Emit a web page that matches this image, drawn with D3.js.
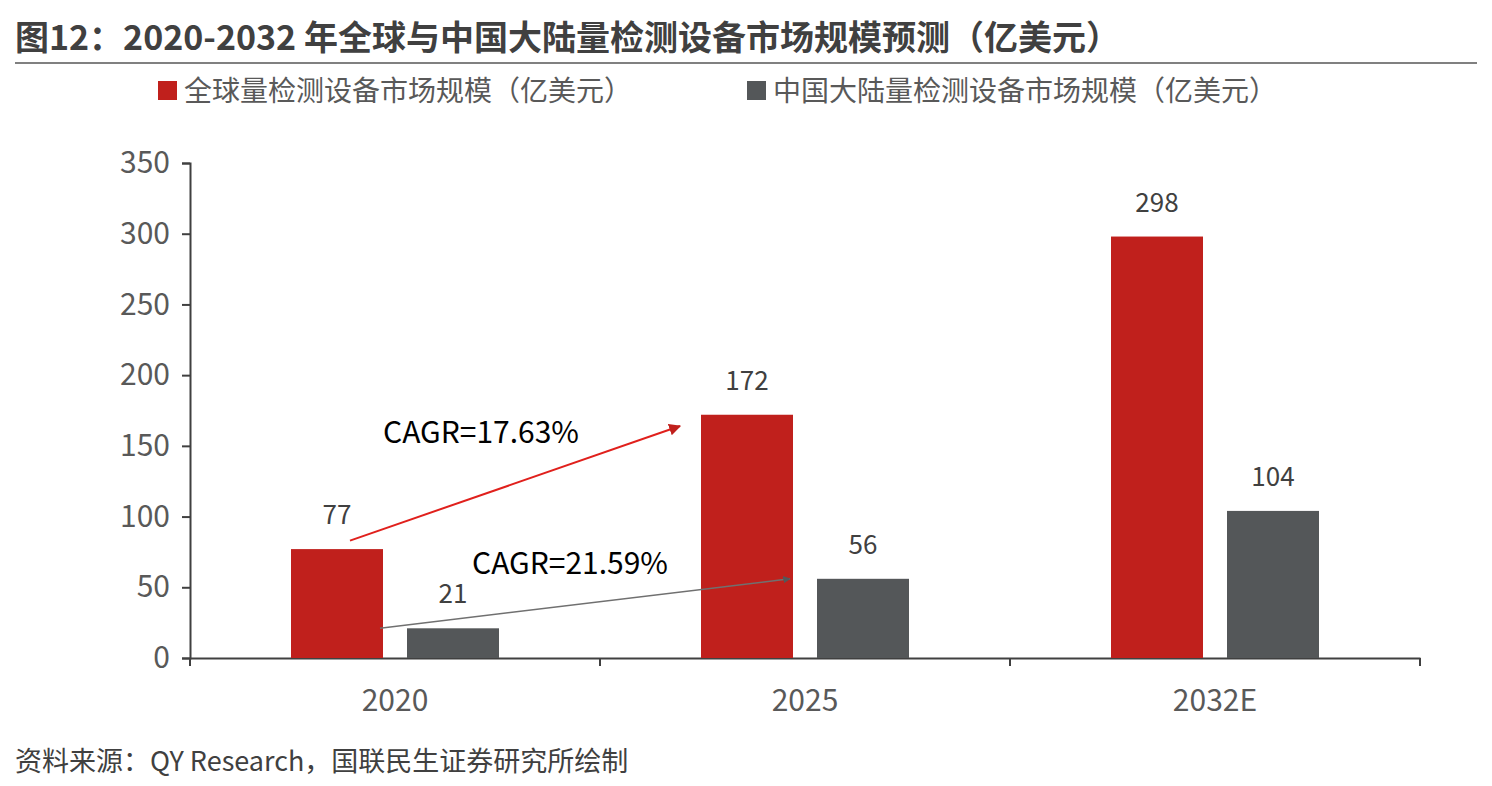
<!DOCTYPE html>
<html><head><meta charset="utf-8">
<script src="https://cdn.jsdelivr.net/npm/d3@7"></script>
<style>body{margin:0;background:#fff;font-family:"Noto Sans CJK SC","Noto Sans",sans-serif;}</style>
</head><body>
<svg id="chart" width="1492" height="786"></svg>
<script>
const categories = ['2020', '2025', '2032E'];
const globalValues = [77, 172, 298];
const chinaValues = [21, 56, 104];
const seriesNames = ['全球量检测设备市场规模（亿美元）', '中国大陆量检测设备市场规模（亿美元）'];
const yTicks = [0, 50, 100, 150, 200, 250, 300, 350];
const cagrLabels = ['CAGR=17.63%', 'CAGR=21.59%'];
const colors = ['#c0201c', '#545759'];

const svg = d3.select('#chart');
const font = '"Noto Sans CJK SC","Noto Sans",sans-serif';

svg.append('text').attr('x', 15).attr('y', 50)
  .attr('font-size', 34).attr('font-weight', 'bold').attr('fill', '#404040')
  .attr('font-family', font)
  .text('图12：2020-2032 年全球与中国大陆量检测设备市场规模预测（亿美元）');
svg.append('line').attr('x1', 15).attr('x2', 1477).attr('y1', 63).attr('y2', 63)
  .attr('stroke', '#808080').attr('stroke-width', 2);

// legend
const legendX = [158, 747];
seriesNames.forEach((n, i) => {
  svg.append('rect').attr('x', legendX[i]).attr('y', 81).attr('width', 19).attr('height', 19).attr('fill', colors[i]);
  svg.append('text').attr('x', legendX[i] + 26).attr('y', 101).attr('font-size', 28)
    .attr('fill', '#595959').attr('font-family', font).text(n);
});

const x = d3.scaleBand().domain(categories).range([190, 1420]);
const y = d3.scaleLinear().domain([0, 350]).range([658, 163]);
const barW = 92, gap = 24;

const yAxis = svg.append('g').attr('transform', 'translate(190,0)')
  .call(d3.axisLeft(y).tickValues(yTicks).tickSize(8).tickPadding(12));
yAxis.select('.domain').attr('stroke', '#404040').attr('stroke-width', 2);
yAxis.selectAll('line').attr('stroke', '#404040').attr('stroke-width', 2);
yAxis.selectAll('text').attr('font-size', 30).attr('fill', '#595959').attr('font-family', font);

const xAxis = svg.append('g').attr('transform', 'translate(0,658)')
  .call(d3.axisBottom(x).tickSize(0).tickPadding(32));
xAxis.select('.domain').attr('stroke', '#404040').attr('stroke-width', 2);
xAxis.selectAll('text').attr('font-size', 30).attr('fill', '#595959').attr('font-family', font);
xAxis.selectAll('.bound').data([190, 600, 1010, 1420]).enter().append('line')
  .attr('x1', d => d).attr('x2', d => d).attr('y1', 0).attr('y2', 8)
  .attr('stroke', '#404040').attr('stroke-width', 2);

[globalValues, chinaValues].forEach((vals, s) => {
  const bx = c => x(c) + x.bandwidth() / 2 + (s === 0 ? -gap / 2 - barW : gap / 2);
  svg.selectAll('.bar' + s).data(categories).enter().append('rect')
    .attr('x', bx).attr('y', (c, i) => y(vals[i]))
    .attr('width', barW).attr('height', (c, i) => y(0) - y(vals[i]))
    .attr('fill', colors[s]);
  svg.selectAll('.lab' + s).data(categories).enter().append('text')
    .attr('x', c => bx(c) + barW / 2).attr('y', (c, i) => y(vals[i]) - 25)
    .attr('text-anchor', 'middle').attr('font-size', 26).attr('fill', '#404040')
    .attr('font-family', font).text((c, i) => vals[i]);
});

const defs = svg.append('defs');
colors.forEach((c, i) => {
  defs.append('marker').attr('id', 'arr' + i).attr('viewBox', '0 0 10 10')
    .attr('refX', 9).attr('refY', 5).attr('markerWidth', i === 0 ? 6 : 5).attr('markerHeight', i === 0 ? 6 : 5)
    .attr('orient', 'auto').append('path').attr('d', 'M0 0 L10 5 L0 10 Z').attr('fill', c);
});
const arrows = [
  { x1: x('2020') + 160, y1: y(13), x2: x('2020') + 490, y2: y(164), c: 0, w: 2, tx: 383, ty: 443 },
  { x1: x('2020') + 190, y1: y(21), x2: x('2020') + 600, y2: y(56), c: 1, w: 1.5, tx: 472, ty: 574 }
];
arrows[0].y1 = y(83);
arrows.forEach((a, i) => {
  svg.append('line').attr('x1', a.x1).attr('y1', a.y1).attr('x2', a.x2).attr('y2', a.y2)
    .attr('stroke', a.c === 0 ? '#e0201c' : '#707070').attr('stroke-width', a.w)
    .attr('marker-end', `url(#arr${a.c})`);
  svg.append('text').attr('x', a.tx).attr('y', a.ty).attr('font-size', 30)
    .attr('fill', '#000').attr('font-family', font).text(cagrLabels[i]);
});

svg.append('text').attr('x', 15).attr('y', 771).attr('font-size', 27).attr('fill', '#404040')
  .attr('font-family', font).text('资料来源：QY Research，国联民生证券研究所绘制');
</script>
</body></html>
